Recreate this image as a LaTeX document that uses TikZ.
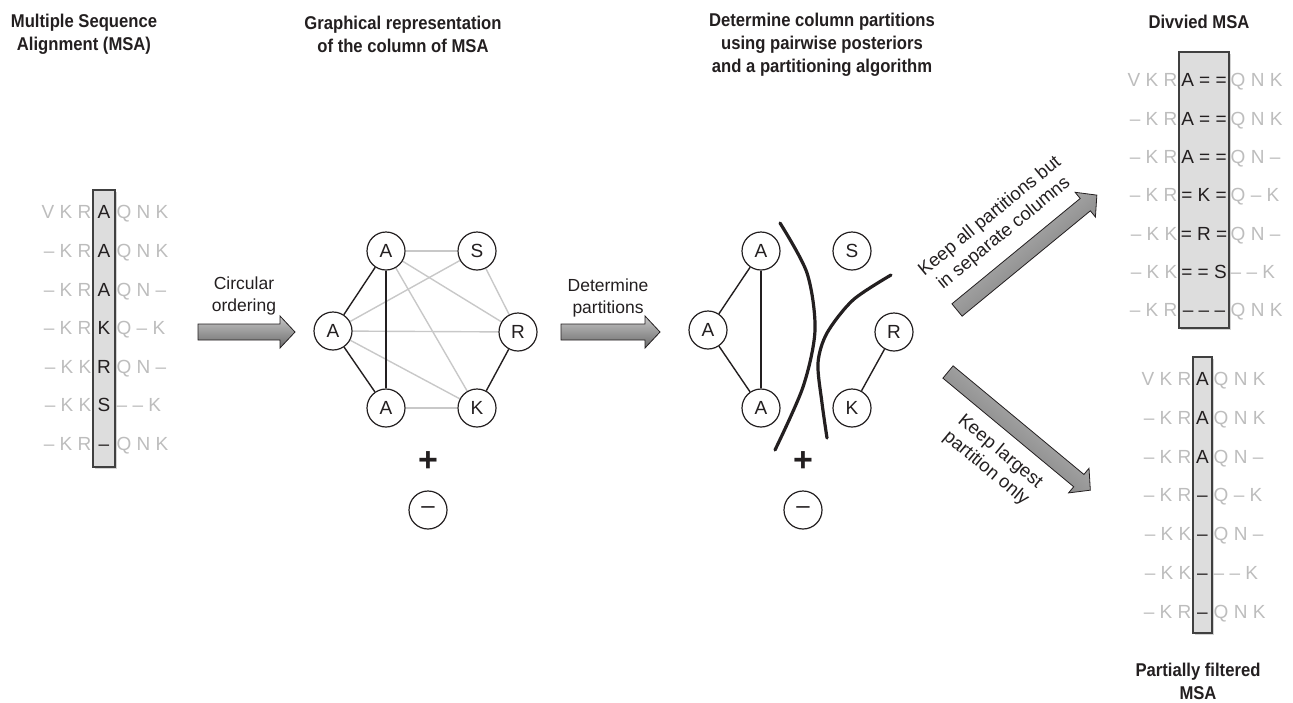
\documentclass[tikz,border=0pt]{standalone}
\usepackage{fontspec}
\setmainfont{Liberation Sans}
\newfontfamily\headfont[FakeStretch=0.9]{Liberation Sans}
\usepackage{tikz}
\usetikzlibrary{shadows,backgrounds}
\definecolor{seqgray}{HTML}{BDBDBD}
\definecolor{edgegray}{HTML}{C8C8C8}
\definecolor{boxfill}{HTML}{DDDDDD}
\definecolor{inkdark}{HTML}{231F20}
\tikzset{
	head/.style={font=\headfont\bfseries\fontsize{18.5}{23}\selectfont, align=center, text=inkdark},
	lbl/.style={font=\fontsize{17.5}{22}\selectfont, align=center, text=inkdark},
	res/.style={circle, draw=inkdark, line width=1.2pt, fill=white, minimum size=38pt, inner sep=0pt, font=\fontsize{19}{19}\selectfont, text=inkdark},
	hardedge/.style={line width=1.4pt, draw=inkdark},
	softedge/.style={line width=1.4pt, draw=edgegray},
	cutline/.style={line width=3.2pt, draw=inkdark, line cap=round},
	colbox/.style={draw=black!75, line width=1.1pt, fill=boxfill, drop shadow={opacity=0.35, shadow xshift=1.5pt, shadow yshift=-2pt}},
	seq/.style={font=\fontsize{19}{19}\selectfont, inner sep=0pt, text height=13.6pt, text depth=0pt},
	blockarrow/.style={draw=inkdark, line width=0.8pt, top color=black!22, bottom color=black!58},
	plus/.style={font=\bfseries\fontsize{34}{34}\selectfont, text=inkdark, inner sep=0pt}
}
% one row of an alignment: name, y, box left, box right, left part, column, right part
\newcommand{\msaRow}[7]{
	\node[seq, text=seqgray, anchor=east] (#1l) at (#3-1.5,#2) {#5};
	\node[seq, text=inkdark] (#1c) at ({(#3+#4)/2},#2) {#6};
	\node[seq, text=seqgray, anchor=west] (#1r) at (#4+1.5,#2) {#7};
}
% block arrow: start, angle, length, shaft half width
\newcommand{\blockArrow}[4]{
	\begin{scope}[shift={#1}, rotate=#2]
		\draw[blockarrow, shading angle=#2] (0,-#4) -- (#3-15,-#4) -- (#3-15,-16) -- (#3,0) -- (#3-15,16) -- (#3-15,#4) -- (0,#4) -- cycle;
	\end{scope}
}

\begin{document}
\begin{tikzpicture}[x=1pt,y=-1pt]
	\useasboundingbox (0,0) rectangle (1293,702);

	% headings
	\node[head] (hMsa) at (84,34) {Multiple Sequence\\Alignment (MSA)};
	\node[head] (hGraph) at (403,34) {Graphical representation\\of the column of MSA};
	\node[head] (hPart) at (822,45) {Determine column partitions\\using pairwise posteriors\\and a partitioning algorithm};
	\node[head] (hDiv) at (1199,22) {Divvied MSA};
	\node[head] (hFilt) at (1198,681) {Partially filtered\\MSA};

	% input alignment
	\draw[colbox] (93,190) rectangle (115,467);
	\foreach \lft/\mid/\rgt [count=\i from 0] in {V K R/A/Q N K, – K R/A/Q N K, – K R/A/Q N –, – K R/K/Q – K, – K K/R/Q N –, – K K/S/– – K, – K R/–/Q N K}
		{\msaRow{m\i}{212+38.6*\i}{93}{115}{\lft}{\mid}{\rgt}}

	% arrows between steps
	\blockArrow{(198,332)}{0}{97}{8}
	\node[lbl] (tCirc) at (244,296) {Circular\\ordering};
	\blockArrow{(561,332)}{0}{99}{8}
	\node[lbl] (tDet) at (608,298) {Determine\\partitions};

	% full graph
	\node[res] (gAtop) at (386,251) {A};
	\node[res] (gS) at (477,251) {S};
	\node[res] (gAleft) at (333,331) {A};
	\node[res] (gR) at (518,332) {R};
	\node[res] (gAbot) at (386,408) {A};
	\node[res] (gK) at (477,408) {K};
	\node[plus] (gPlus) at (428,462) {+};
	\node[res, font=\fontsize{24}{24}\selectfont] (gMinus) at (428,510) {–};
	\begin{scope}[on background layer]
		\draw[softedge] (gAtop) -- (gS);
		\draw[softedge] (gAtop) -- (gR);
		\draw[softedge] (gAtop) -- (gK);
		\draw[softedge] (gAleft) -- (gS);
		\draw[softedge] (gAleft) -- (gR);
		\draw[softedge] (gAleft) -- (gK);
		\draw[softedge] (gAbot) -- (gK);
		\draw[softedge] (gS) -- (gR);
	\end{scope}
	\draw[hardedge] (gAtop) -- (gAleft);
	\draw[hardedge] (gAleft) -- (gAbot);
	\draw[hardedge] (gAtop) -- (gAbot);
	\draw[hardedge] (gR) -- (gK);

	% partitioned graph
	\node[res] (pAtop) at (761,251) {A};
	\node[res] (pS) at (852,251) {S};
	\node[res] (pAleft) at (708,330) {A};
	\node[res] (pR) at (894,332) {R};
	\node[res] (pAbot) at (761,408) {A};
	\node[res] (pK) at (852,408) {K};
	\node[plus] (pPlus) at (803,462) {+};
	\node[res, font=\fontsize{24}{24}\selectfont] (pMinus) at (803,510) {–};
	\draw[hardedge] (pAtop) -- (pAleft);
	\draw[hardedge] (pAleft) -- (pAbot);
	\draw[hardedge] (pAtop) -- (pAbot);
	\draw[hardedge] (pR) -- (pK);
	\draw[cutline] plot[smooth] coordinates {(780,223) (807,273) (815,330) (803,387) (775,450)};
	\draw[cutline] plot[smooth] coordinates {(891,275) (853,300) (827,333) (818,363) (822,403) (827,438)};

	% two ways out
	\blockArrow{(957,310)}{39.4}{181}{8}
	\node[lbl, font=\fontsize{18.5}{22}\selectfont, rotate=39.4] (tKeepAll) at (997,225) {Keep all partitions but\\in separate columns};
	\blockArrow{(948,372)}{-39.7}{185}{8}
	\node[lbl, font=\fontsize{18.5}{22}\selectfont, rotate=-39.7] (tKeepBig) at (993,460) {Keep largest\\partition only};

	% divvied alignment
	\draw[colbox] (1179,52) rectangle (1229,328);
	\foreach \lft/\mid/\rgt [count=\i from 0] in {V K R/A = =/Q N K, – K R/A = =/Q N K, – K R/A = =/Q N –, – K R/= K =/Q – K, – K K/= R =/Q N –, – K K/= = S/– – K, – K R/– – –/Q N K}
		{\msaRow{d\i}{80+38.3*\i}{1179}{1229}{\lft}{\mid}{\rgt}}

	% filtered alignment
	\draw[colbox] (1193,357) rectangle (1212,633);
	\foreach \lft/\mid/\rgt [count=\i from 0] in {V K R/A/Q N K, – K R/A/Q N K, – K R/A/Q N –, – K R/–/Q – K, – K K/–/Q N –, – K K/–/– – K, – K R/–/Q N K}
		{\msaRow{f\i}{379+38.7*\i}{1193}{1212}{\lft}{\mid}{\rgt}}
\end{tikzpicture}
\end{document}
